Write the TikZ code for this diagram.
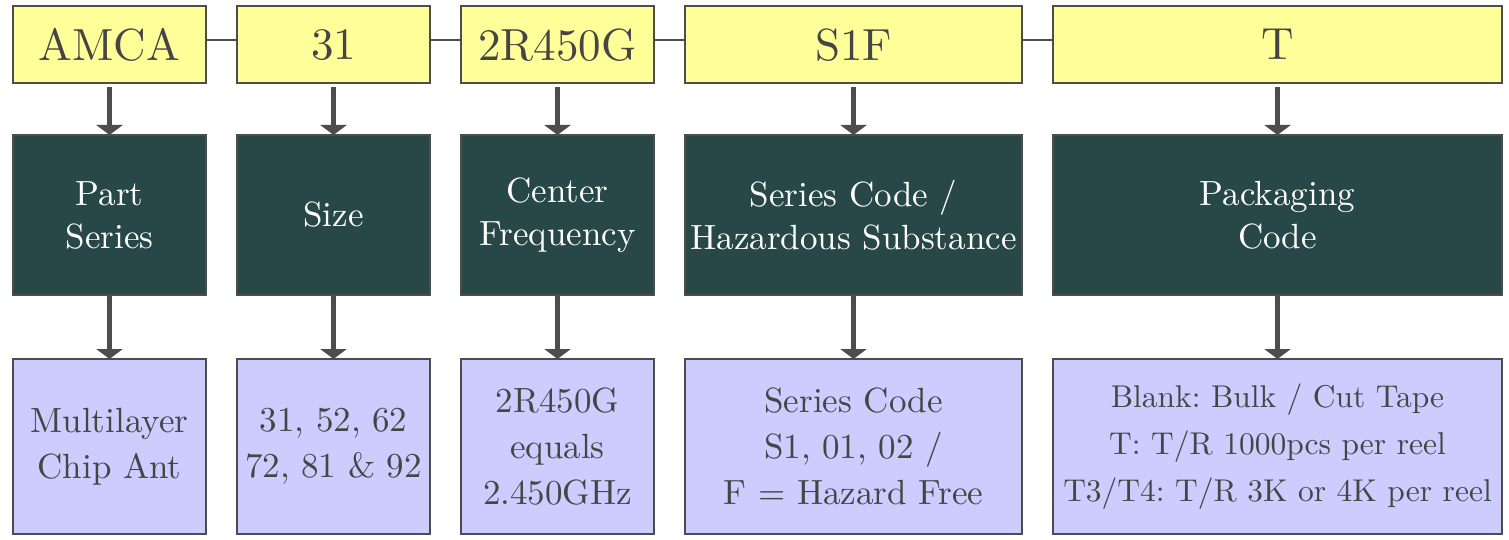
\documentclass[tikz,border=0pt]{standalone}
\usepackage{fontspec}
\setmainfont{lmroman10-regular}[Extension=.otf]
\usetikzlibrary{arrows.meta}
\definecolor{edgegray}{HTML}{4D4D4D}
\definecolor{txtgray}{HTML}{454545}
\definecolor{topfill}{HTML}{FFFF99}
\definecolor{midfill}{HTML}{284848}
\definecolor{botfill}{HTML}{CCCCFF}
\tikzset{
  box/.style={draw=edgegray, line width=2pt, rectangle, inner sep=0pt, outer sep=0pt, align=center},
  topbox/.style={box, fill=topfill, text=txtgray, minimum height=76.5pt, font=\fontsize{45}{54}\selectfont},
  midbox/.style={box, fill=midfill, text=white, minimum height=160pt, font=\fontsize{35}{43}\selectfont},
  botbox/.style={box, fill=botfill, text=txtgray, minimum height=175pt, font=\fontsize{35}{46}\selectfont},
  botwide/.style={botbox, font=\frenchspacing\fontsize{31.5}{47}\selectfont},
  link/.style={draw=edgegray, line width=2pt},
  arr/.style={draw=edgegray, line width=5pt, -{Triangle[width=26pt,length=10pt]}},
}
\begin{document}
\begin{tikzpicture}[x=1pt,y=1pt]
\useasboundingbox (0,0) rectangle (1509,-540);
% top row
\node[topbox, minimum width=193pt] (t1) at (109.5,-44.75) {AMCA};
\node[topbox, minimum width=193pt] (t2) at (333.5,-44.75) {31};
\node[topbox, minimum width=193pt] (t3) at (557.5,-44.75) {2R450G};
\node[topbox, minimum width=337pt] (t4) at (853.5,-44.75) {S1F};
\node[topbox, minimum width=449pt] (t5) at (1277.5,-44.75) {T};
% middle row
\node[midbox, minimum width=193pt] (m1) at (109.5,-215) {Part\\Series};
\node[midbox, minimum width=193pt] (m2) at (333.5,-215) {Size};
\node[midbox, minimum width=193pt] (m3) at (557.5,-215) {Center\\Frequency};
\node[midbox, minimum width=337pt] (m4) at (853.5,-215) {Series Code /\\Hazardous Substance};
\node[midbox, minimum width=449pt] (m5) at (1277.5,-215) {Packaging\\Code};
% bottom row
\node[botbox, minimum width=193pt] (b1) at (109.5,-446.5) {Multilayer\\Chip Ant};
\node[botbox, minimum width=193pt] (b2) at (333.5,-446.5) {31, 52, 62\\72, 81 \& 92};
\node[botbox, minimum width=193pt] (b3) at (557.5,-446.5) {2R450G\\equals\\2.450GHz};
\node[botbox, minimum width=337pt] (b4) at (853.5,-446.5) {Series Code\\S1, 01, 02 /\\F = Hazard Free};
\node[botwide, minimum width=449pt] (b5) at (1277.5,-446.5) {Blank: Bulk / Cut Tape\\T: T/R 1000pcs per reel\\T3/T4: T/R 3K or 4K per reel};
% links between top boxes
\draw[link] ([yshift=5pt]t1.east) -- ([yshift=5pt]t2.west);
\draw[link] ([yshift=5pt]t2.east) -- ([yshift=5pt]t3.west);
\draw[link] ([yshift=5pt]t3.east) -- ([yshift=5pt]t4.west);
\draw[link] ([yshift=5pt]t4.east) -- ([yshift=5pt]t5.west);
% arrows
\foreach \i in {1,...,5}{
  \draw[arr] ([yshift=-4pt]t\i.south) -- (m\i.north);
  \draw[arr] (m\i.south) -- (b\i.north);
}
\end{tikzpicture}
\end{document}
